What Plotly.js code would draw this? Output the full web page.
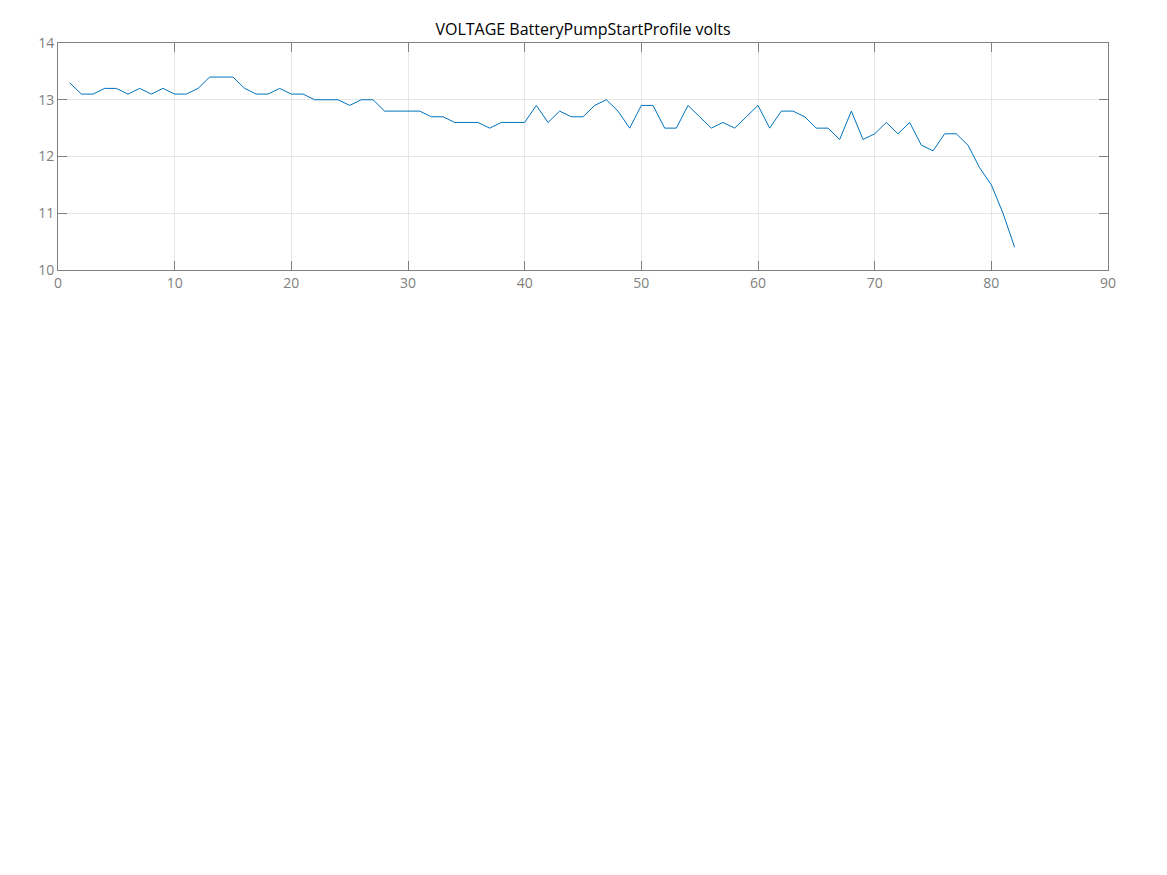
<!DOCTYPE html>
<html>
<head>
<meta charset="utf-8">
<script src="https://cdn.plot.ly/plotly-3.0.1.min.js"></script>
<style>html,body{margin:0;padding:0;background:#fff;}#chart{width:1167px;height:875px;}</style>
</head>
<body>
<div id="chart"></div>
<script>
const sampleIndex = [];
for (let i = 1; i <= 82; i++) sampleIndex.push(i);
const volts = [
  13.3, 13.1, 13.1, 13.2, 13.2, 13.1, 13.2, 13.1, 13.2, 13.1,
  13.1, 13.2, 13.4, 13.4, 13.4, 13.2, 13.1, 13.1, 13.2, 13.1,
  13.1, 13.0, 13.0, 13.0, 12.9, 13.0, 13.0, 12.8, 12.8, 12.8,
  12.8, 12.7, 12.7, 12.6, 12.6, 12.6, 12.5, 12.6, 12.6, 12.6,
  12.9, 12.6, 12.8, 12.7, 12.7, 12.9, 13.0, 12.8, 12.5, 12.9,
  12.9, 12.5, 12.5, 12.9, 12.7, 12.5, 12.6, 12.5, 12.7, 12.9,
  12.5, 12.8, 12.8, 12.7, 12.5, 12.5, 12.3, 12.8, 12.3, 12.4,
  12.6, 12.4, 12.6, 12.2, 12.1, 12.4, 12.4, 12.2, 11.8, 11.5,
  11.0, 10.4
];
const titleText = 'VOLTAGE BatteryPumpStartProfile volts';

const axisCommon = {
  showline: true, mirror: 'ticks', linecolor: '#808080', linewidth: 1,
  ticks: 'inside', ticklen: 9, tickcolor: '#808080', tickwidth: 1,
  showgrid: true, gridcolor: '#e6e6e6', gridwidth: 1, zeroline: false,
  tickfont: {family: 'Open Sans', size: 14, color: '#808080'}
};

Plotly.newPlot('chart', [{
  x: sampleIndex, y: volts, type: 'scatter', mode: 'lines',
  line: {color: '#0072BD', width: 1}, showlegend: false
}], {
  width: 1167, height: 875,
  margin: {l: 58, r: 59, t: 43, b: 605},
  paper_bgcolor: '#fff', plot_bgcolor: '#fff',
  title: {text: titleText, x: 0.5, xref: 'paper', y: 1, yref: 'paper', yanchor: 'bottom', pad: {b: 8},
          font: {family: 'Open Sans', size: 16, color: '#000'}},
  xaxis: Object.assign({}, axisCommon, {range: [0, 90], dtick: 10, tick0: 0}),
  yaxis: Object.assign({}, axisCommon, {range: [10, 14], dtick: 1, tick0: 10})
}, {displayModeBar: false, staticPlot: true});
</script>
</body>
</html>
